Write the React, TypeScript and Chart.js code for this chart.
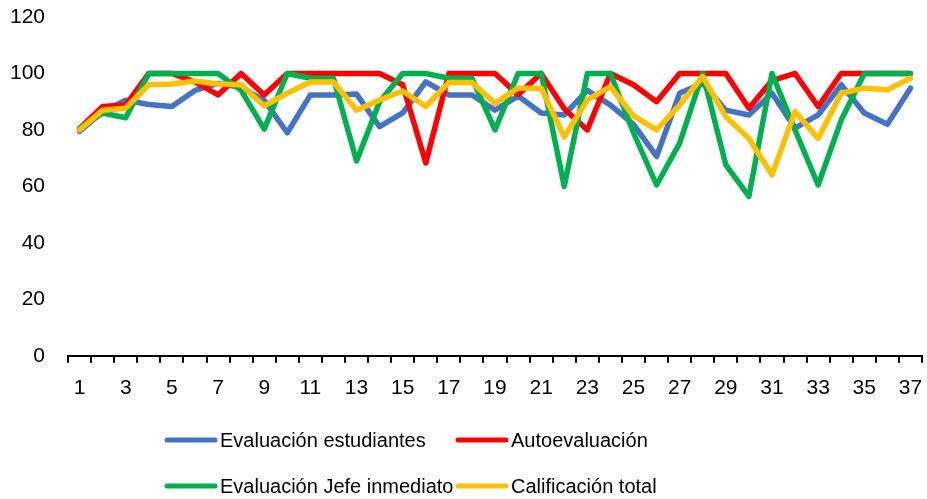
import React, { useEffect, useRef } from "react";
import { Chart, registerables } from "chart.js";

Chart.register(...registerables);

const categories: string[] = Array.from({ length: 37 }, (_, i) => String(i + 1));

const estudiantes: number[] = [
  79.5, 86.5, 90.5, 89, 88.3, 94, 96.5, 95, 90.5, 79,
  92.4, 92.4, 92.7, 81.2, 86, 97, 92.4, 92.4, 87, 92,
  86, 85.3, 94, 88.8, 82, 70.6, 93, 96.5, 87, 85.3,
  93, 80.6, 85.3, 96, 86, 82, 94.8,
];

const autoevaluacion: number[] = [
  80.5, 88.3, 88.8, 100, 100, 97, 92.4, 100, 92.4, 100,
  100, 100, 100, 100, 96, 68.3, 100, 100, 100, 92.5,
  100, 87.5, 80, 100, 96, 90, 100, 100, 100, 87.7,
  97.5, 100, 88.3, 100, 100, 100, 100,
];

const jefe: number[] = [
  80.5, 86, 84.3, 100, 100, 100, 100, 94, 80.3, 100,
  98.3, 98.3, 69, 90, 100, 100, 98.3, 98.3, 80, 100,
  100, 60, 100, 100, 79, 60.5, 75.3, 100, 67.6, 56.5,
  100, 80, 60.5, 83.5, 100, 100, 100,
];

const total: number[] = [
  80, 87, 87.7, 96, 96.3, 97.3, 96.3, 96, 88.5, 93,
  97, 97, 87, 90.6, 93.8, 88.3, 96.8, 96.8, 89.4, 94.8,
  94.8, 77.5, 90.6, 95.3, 85, 80, 88.8, 98.9, 84.7, 77,
  64.1, 86.5, 77, 93, 94.8, 94.2, 98.3,
];

const seriesNames: string[] = [
  "Evaluación estudiantes",
  "Autoevaluación",
  "Evaluación Jefe inmediato",
  "Calificación total",
];
const seriesColors: string[] = ["#4472C4", "#FF0000", "#00B050", "#FFC000"];

const yTicks = { min: 0, max: 120, step: 20 };

const TICK_FONT = '"Liberation Sans", Arial, sans-serif';
const LEGEND_FONT = '"Liberation Sans", Arial, sans-serif';

const legendPlugin = {
  id: "customLegend",
  afterDraw(chart: any) {
    const ctx = chart.ctx as CanvasRenderingContext2D;
    const items = [
      { i: 0, x: 165, y: 440 },
      { i: 1, x: 456, y: 440 },
      { i: 2, x: 165, y: 486 },
      { i: 3, x: 456, y: 486 },
    ];
    ctx.save();
    ctx.font = `20px ${LEGEND_FONT}`;
    ctx.textBaseline = "middle";
    ctx.textAlign = "left";
    for (const it of items) {
      ctx.strokeStyle = seriesColors[it.i];
      ctx.lineWidth = 5;
      ctx.lineCap = "round";
      ctx.beginPath();
      ctx.moveTo(it.x + 2, it.y);
      ctx.lineTo(it.x + 50, it.y);
      ctx.stroke();
      ctx.fillStyle = "#000";
      ctx.fillText(seriesNames[it.i], it.x + 55, it.y + 1);
    }
    ctx.restore();
  },
};

export default function App() {
  const canvasRef = useRef<HTMLCanvasElement | null>(null);

  useEffect(() => {
    if (!canvasRef.current) return;
    const data = [estudiantes, autoevaluacion, jefe, total];
    const chart = new Chart(canvasRef.current, {
      type: "line",
      data: {
        labels: categories,
        datasets: data.map((d, i) => ({
          label: seriesNames[i],
          data: d,
          borderColor: seriesColors[i],
          backgroundColor: seriesColors[i],
          borderWidth: 5.5,
          pointRadius: 0,
          tension: 0,
          fill: false,
          borderCapStyle: "round" as const,
          borderJoinStyle: "round" as const,
          order: 4 - i,
        })),
      },
      options: {
        animation: false,
        responsive: true,
        maintainAspectRatio: false,
        layout: { padding: { left: 7, right: 5, top: 17, bottom: 85 } },
        plugins: {
          legend: { display: false },
          tooltip: { enabled: false },
        },
        scales: {
          x: {
            offset: true,
            afterFit: (scale: any) => {
              scale.paddingRight = 0;
              scale.paddingLeft = 0;
            },
            grid: {
              display: true,
              drawOnChartArea: false,
              drawTicks: true,
              tickLength: 7,
              offset: true,
              color: "#000",
              lineWidth: 2,
            },
            border: { display: true, color: "#000", width: 2 },
            ticks: {
              autoSkip: false,
              maxRotation: 0,
              minRotation: 0,
              padding: 13,
              color: "#000",
              font: { family: TICK_FONT, size: 21 },
              callback: (_v: any, idx: number) => (idx % 2 === 0 ? categories[idx] : ""),
            },
          },
          y: {
            min: yTicks.min,
            max: yTicks.max,
            grid: {
              display: true,
              drawOnChartArea: false,
              drawTicks: true,
              tickLength: 20,
              color: "rgba(0,0,0,0)",
            },
            border: { display: false },
            ticks: {
              stepSize: yTicks.step,
              padding: 3,
              color: "#000",
              font: { family: TICK_FONT, size: 21 },
            },
          },
        },
      },
      plugins: [legendPlugin],
    });
    return () => chart.destroy();
  }, []);

  return (
    <div style={{ position: "fixed", left: 0, top: 0, width: 927, height: 499, background: "#fff" }}>
      <canvas ref={canvasRef} />
    </div>
  );
}
